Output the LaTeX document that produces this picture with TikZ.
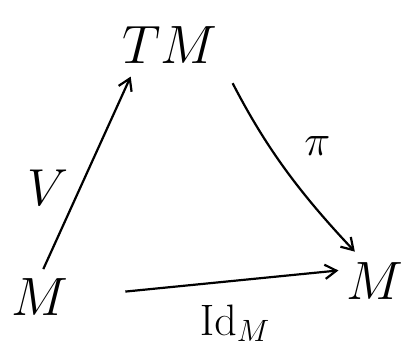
\RequirePackage{fix-cm}
\documentclass[tikz,border=0pt]{standalone}
\usepackage{amsmath,amssymb}
\usepackage{tikz}
\usetikzlibrary{arrows.meta,positioning}
\tikzset{
  cdobj/.style={font=\fontsize{54}{58}\selectfont,inner sep=2pt},
  cdmap/.style={-{Straight Barb[length=4mm,width=5mm]},line width=2.2pt},
  cdlbl/.style={font=\fontsize{52}{56}\selectfont,inner sep=3pt},
}
\begin{document}
\begin{tikzpicture}[x=1pt,y=1pt]
  \useasboundingbox (0,0) rectangle (403,356);
  \node[cdobj] (TM) at (170,311) {$TM$};
  \node[cdobj] (Ml) at (40,59) {$M$};
  \node[cdobj] (Mr) at (375,75) {$M$};

  \draw[cdmap,shorten <=8pt,shorten >=12pt] (Ml.north) -- node[cdlbl,pos=0.42,left=8pt]{$V$} (TM.211);
  \draw[cdmap,shorten <=28pt,shorten >=12pt] (TM.-15) to[bend right=8] node[cdlbl,pos=0.4,right=30pt,font=\fontsize{44}{48}\selectfont]{$\pi$} (Mr.120);
  \draw[cdmap,shorten <=55pt,shorten >=6pt] (Ml.east) -- node[cdlbl,pos=0.6,below=20pt,font=\fontsize{44}{48}\selectfont]{$\mathrm{Id}_M$} (Mr.160);
\end{tikzpicture}
\end{document}
